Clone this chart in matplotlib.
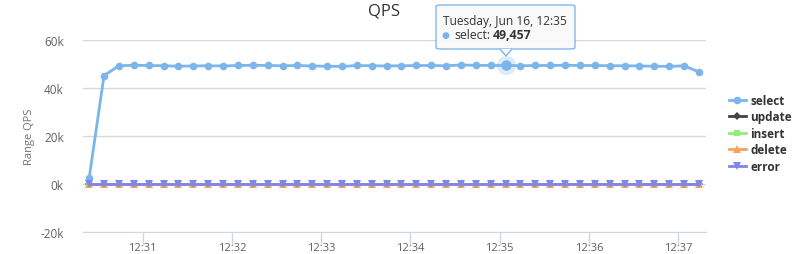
import matplotlib.pyplot as plt
import matplotlib.dates as mdates
from matplotlib.patches import FancyBboxPatch, Polygon
import pandas as pd

plt.rcParams['font.family'] = ['Open Sans', 'DejaVu Sans']

times = pd.date_range('2015-06-16 12:30:24', periods=42, freq='10s')
select = [2500, 45200, 49300, 49500, 49400, 49300, 49100, 49200, 49300, 49200,
          49400, 49500, 49400, 49300, 49400, 49200, 49100, 49000, 49400, 49300,
          49200, 49300, 49400, 49400, 49300, 49600, 49500, 49400, 49457, 49300,
          49400, 49400, 49500, 49400, 49400, 49300, 49300, 49200, 49100, 49000,
          49300, 46700]
update = [0, 0, 0, 0, 0, 0, 0, 0, 0, 0, 0, 0, 0, 0, 0, 0, 0, 0, 0, 0, 0,
          0, 0, 0, 0, 0, 0, 0, 0, 0, 0, 0, 0, 0, 0, 0, 0, 0, 0, 0, 0, 0]
insert = [0, 0, 0, 0, 0, 0, 0, 0, 0, 0, 0, 0, 0, 0, 0, 0, 0, 0, 0, 0, 0,
          0, 0, 0, 0, 0, 0, 0, 0, 0, 0, 0, 0, 0, 0, 0, 0, 0, 0, 0, 0, 0]
delete = [0, 0, 0, 0, 0, 0, 0, 0, 0, 0, 0, 0, 0, 0, 0, 0, 0, 0, 0, 0, 0,
          0, 0, 0, 0, 0, 0, 0, 0, 0, 0, 0, 0, 0, 0, 0, 0, 0, 0, 0, 0, 0]
error = [0, 0, 0, 0, 0, 0, 0, 0, 0, 0, 0, 0, 0, 0, 0, 0, 0, 0, 0, 0, 0,
         0, 0, 0, 0, 0, 0, 0, 0, 0, 0, 0, 0, 0, 0, 0, 0, 0, 0, 0, 0, 0]
hover_idx = 28
y_ticks = [-20000, 0, 20000, 40000, 60000]
y_labels = ['-20k', '0k', '20k', '40k', '60k']

series = [
    ('select', select, '#7cb5ec', 'o', 5.5),
    ('update', update, '#434348', 'D', 4.5),
    ('insert', insert, '#90ed7d', 's', 5),
    ('delete', delete, '#f7a35c', '^', 5.5),
    ('error', error, '#8085e9', 'v', 5.5),
]

fig = plt.figure(figsize=(8, 2.55), dpi=100)
ax = fig.add_axes([0.104, 0.086, 0.779, 0.753])

for name, vals, col, mk, ms in series:
    ax.plot(times, vals, color=col, lw=2, marker=mk, ms=ms,
            markeredgewidth=0, label=name, zorder=3)

# hovered point
hx, hy = times[hover_idx], select[hover_idx]
ax.plot([hx], [hy], 'o', ms=14, color='#7cb5ec', alpha=0.25,
        markeredgewidth=0, zorder=4)
ax.plot([hx], [hy], 'o', ms=7.5, color='#7cb5ec', markeredgewidth=0, zorder=5)

ax.set_ylim(-20000, 60000)
ax.set_xlim(pd.Timestamp('2015-06-16 12:30:20'), pd.Timestamp('2015-06-16 12:37:19'))
ax.set_yticks(y_ticks)
ax.set_yticklabels(y_labels)
ax.xaxis.set_major_locator(mdates.MinuteLocator())
ax.xaxis.set_major_formatter(mdates.DateFormatter('%H:%M'))

ax.grid(axis='y', color='#d8d8d8', lw=1)
ax.set_axisbelow(True)
for s in ['top', 'left', 'right']:
    ax.spines[s].set_visible(False)
ax.spines['bottom'].set_color('#ccd6eb')
ax.tick_params(axis='y', length=0, labelsize=8.5, labelcolor='#606060', pad=14)
ax.tick_params(axis='x', length=9, width=1, color='#ccd6eb', labelsize=8,
               labelcolor='#606060', pad=-2)

ax.set_ylabel('Range QPS', fontsize=8, color='#707070', labelpad=4)
fig.text(0.48, 0.955, 'QPS', ha='center', va='center', fontsize=12, color='#333333')

leg = ax.legend(loc='upper left', bbox_to_anchor=(1.028, 0.745), frameon=False,
                prop={'weight': 'bold', 'size': 8.5}, handlelength=1.45,
                handletextpad=0.4, labelspacing=0.3, borderaxespad=0)
for t in leg.get_texts():
    t.set_color('#333333')

# tooltip
box = FancyBboxPatch((436 / 800, 1 - 50 / 255), 139 / 800, 44 / 255,
                     boxstyle='round,pad=0,rounding_size=0.006',
                     transform=fig.transFigure, facecolor='#f9f9f9',
                     edgecolor='#7cb5ec', lw=1, alpha=0.95, zorder=10)
fig.patches.append(box)
tip = Polygon([(500 / 800, 1 - 50 / 255), (506 / 800, 1 - 57 / 255), (512 / 800, 1 - 50 / 255)],
              closed=False, transform=fig.transFigure, facecolor='#f9f9f9',
              edgecolor='#7cb5ec', lw=1, zorder=10)
fig.patches.append(tip)
fig.text(443 / 800, 1 - 21 / 255, 'Tuesday, Jun 16, 12:35', fontsize=8.6,
         color='#333333', va='center', zorder=11)
fig.text(442 / 800, 1 - 36 / 255, '\u25cf', fontsize=6.5, color='#7cb5ec',
         va='center', zorder=11)
fig.text(454 / 800, 1 - 36 / 255, 'select:', fontsize=8.8, color='#333333',
         va='center', zorder=11)
fig.text(493 / 800, 1 - 36 / 255, '49,457', fontsize=8.8, color='#333333',
         weight='bold', va='center', zorder=11)

fig.savefig('out.png', dpi=100)
